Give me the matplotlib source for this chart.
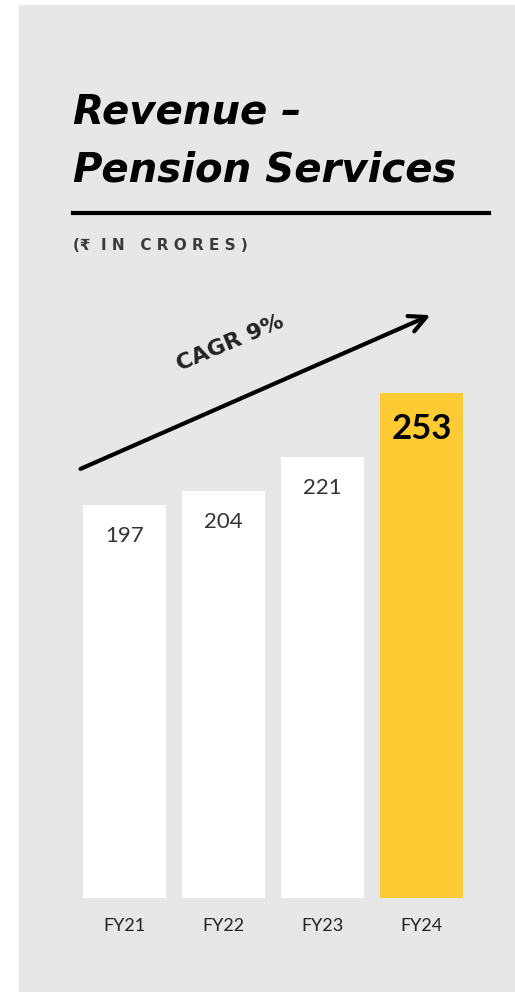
import matplotlib.pyplot as plt
from matplotlib.patches import Rectangle

# data
years = ['FY21', 'FY22', 'FY23', 'FY24']
revenue = [197, 204, 221, 253]
bar_colors = ['#ffffff', '#ffffff', '#ffffff', '#ffcb32']

W, H = 515, 992
fig = plt.figure(figsize=(W / 100, H / 100), dpi=100)
fig.patch.set_facecolor('white')

# grey card behind everything
fig.patches.append(Rectangle((19 / W, 0), 1 - 19 / W, 1 - 5 / H,
                             transform=fig.transFigure, color='#e7e7e7', zorder=-5))

def fx(px):
    return px / W

def fy(py):
    return 1 - py / H

# title block
title_font = ['DejaVu Sans']
fig.text(fx(73), fy(123), 'Revenue –', fontsize=29, fontweight='bold', style='italic',
         family=title_font, color='black', va='baseline')
fig.text(fx(73), fy(182), 'Pension Services', fontsize=29, fontweight='bold', style='italic',
         family=title_font, color='black', va='baseline')
fig.add_artist(plt.Line2D([fx(73), fx(489)], [fy(213), fy(213)], color='black', lw=3))
fig.text(fx(73), fy(245), '(₹  I N   C R O R E S )',
         fontsize=11, fontweight='bold', family=['DejaVu Sans', 'Noto Sans'],
         color='#3a3a3a', va='center')

# bar chart
ax = fig.add_axes([fx(75), fy(898), fx(471) - fx(75), (898 - 300) / H])
ax.set_xlim(-0.5, 3.5)
ax.set_ylim(0, 598 / 1.995)
x = range(len(years))
bars = ax.bar(x, revenue, width=0.84, color=bar_colors)
ax.axis('off')
ax.patch.set_visible(False)

for i, (b, v) in enumerate(zip(bars, revenue)):
    last = i == len(revenue) - 1
    ax.annotate(str(v), (b.get_x() + b.get_width() / 2, v),
                xytext=(0, -26 if last else -22), textcoords='offset points',
                ha='center', va='center',
                fontsize=25 if last else 16,
                fontweight='bold' if last else 'normal',
                family=['Lato', 'DejaVu Sans'], color='black' if last else '#333333')
    ax.annotate(years[i], (i, 0), xytext=(0, -20), textcoords='offset points',
                ha='center', va='center', fontsize=13, family=['Lato', 'DejaVu Sans'],
                color='#222222', annotation_clip=False)

# CAGR arrow
ax.annotate('', xy=(fx(433), fy(314)), xytext=(fx(78), fy(470)),
            xycoords='figure fraction', textcoords='figure fraction',
            arrowprops=dict(arrowstyle='->', lw=3, color='black', mutation_scale=30))
fig.text(fx(230), fy(343), 'CAGR 9%', rotation=23, rotation_mode='anchor',
         ha='center', va='center', fontsize=16, fontweight='bold',
         family=['DejaVu Sans'], color='#222222')

fig.savefig('out.png', dpi=100)
